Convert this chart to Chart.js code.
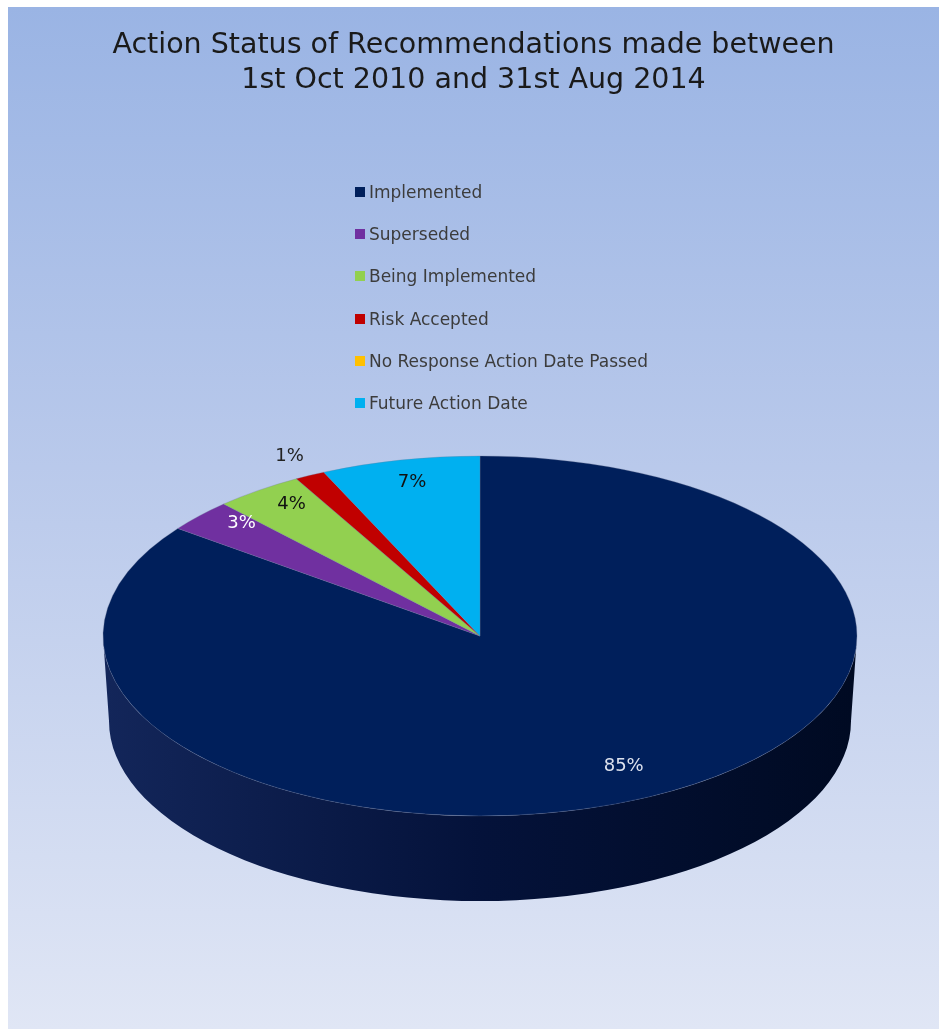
<!DOCTYPE html>
<html>
<head>
<meta charset="utf-8">
<script src="https://cdn.jsdelivr.net/npm/chart.js@4.4.1/dist/chart.umd.min.js"></script>
<style>
    html, body { margin: 0; padding: 0; background: #ffffff; }
    body { width: 939px; height: 1029px; position: relative; overflow: hidden; }
    #frame {
        position: absolute; left: 8px; top: 7px; width: 931px; height: 1022px;
        background: linear-gradient(to bottom, #9ab4e4 0%, #b9c9eb 45%, #e0e6f5 100%);
    }
    #frame canvas { position: absolute; left: 0; top: 0; }
    #legend {
        position: absolute; left: 347px; top: 164px;
        font-family: "DejaVu Sans", sans-serif; font-size: 17px; color: #3c3c3c;
    }
    #legend .item { display: flex; align-items: center; height: 42.2px; }
    #legend .box { width: 10px; height: 10px; margin-right: 4px; }
</style>
</head>
<body>
<div id="frame">
    <canvas id="chart" width="931" height="1022"></canvas>
    <div id="legend"></div>
</div>
<script>
// Данные диаграммы
const categories = ['Implemented', 'Superseded', 'Being Implemented', 'Risk Accepted', 'No Response Action Date Passed', 'Future Action Date'];
const shares = [85.2, 2.9, 3.8, 1.3, 0, 6.8];
const titleLines = ['Action Status of Recommendations made between', '1st Oct 2010 and 31st Aug 2014'];

// Оформление
const sliceColors = ['#001f5b', '#7030a0', '#92d050', '#c00000', '#ffc000', '#00b0f0'];
const labelColors = ['#dde2ee', '#ffffff', '#111111', '#222222', '#111111', '#111111'];

// Геометрия "3D" эллипса (в координатах canvas)
const PIE = { cx: 472, cy: 629, rx: 377, ry: 180, depth: 85, rxBottom: 371 };
// для подписей: центр с учётом перспективы
const LBL = { cy: 605, ryUp: 156, ryDown: 203 };

const pie3d = {
    id: 'pie3d',
    beforeDatasetsDraw(chart) {
        const ctx = chart.ctx;
        const arcs = chart.getDatasetMeta(0).data;
        if (!arcs.length) return;

        // боковая стенка (видна только передняя половина)
        const grad = ctx.createLinearGradient(PIE.cx - PIE.rx, 0, PIE.cx + PIE.rx, 0);
        grad.addColorStop(0, '#13265a');
        grad.addColorStop(0.5, '#04123a');
        grad.addColorStop(1, '#000a22');
        arcs.forEach((arc, i) => {
            const a0 = Math.max(arc.startAngle, 0);
            const a1 = Math.min(arc.endAngle, Math.PI);
            if (a1 <= a0) return;
            ctx.save();
            ctx.beginPath();
            ctx.ellipse(PIE.cx, PIE.cy, PIE.rx, PIE.ry, 0, a0, a1);
            ctx.ellipse(PIE.cx, PIE.cy + PIE.depth, PIE.rxBottom, PIE.ry, 0, a1, a0, true);
            ctx.closePath();
            ctx.fillStyle = i === 0 ? grad : sliceColors[i];
            ctx.fill();
            ctx.restore();
        });

        // сжимаем круг в эллипс
        const a = arcs[0];
        const R = a.outerRadius;
        ctx.save();
        ctx.translate(PIE.cx, PIE.cy);
        ctx.scale(PIE.rx / R, PIE.ry / R);
        ctx.translate(-a.x, -a.y);
    },
    afterDatasetsDraw(chart) {
        const ctx = chart.ctx;
        ctx.restore();

        const total = shares.reduce((s, v) => s + v, 0);
        const arcs = chart.getDatasetMeta(0).data;
        ctx.save();
        ctx.font = '18px "DejaVu Sans", sans-serif';
        ctx.textAlign = 'center';
        ctx.textBaseline = 'middle';
        arcs.forEach((arc, i) => {
            const v = shares[i];
            if (!v) return;
            const pct = Math.round(v / total * 100);
            const mid = (arc.startAngle + arc.endAngle) / 2;
            const f = pct < 2 ? 1.12 : 0.85;
            const s = Math.sin(mid);
            const x = PIE.cx + PIE.rx * f * Math.cos(mid);
            const y = LBL.cy + (s < 0 ? LBL.ryUp : LBL.ryDown) * f * s;
            ctx.fillStyle = labelColors[i];
            ctx.fillText(pct + '%', x, y);
        });
        ctx.restore();
    }
};

const chart = new Chart(document.getElementById('chart').getContext('2d'), {
    type: 'pie',
    data: {
        labels: categories,
        datasets: [{
            data: shares,
            backgroundColor: sliceColors,
            borderWidth: 0.6,
            borderColor: 'rgba(110,120,150,0.8)',
            clip: false
        }]
    },
    options: {
        responsive: false,
        animation: false,
        events: [],
        layout: { padding: { left: 20, right: 20, bottom: 20 } },
        plugins: {
            legend: { display: false },
            tooltip: { enabled: false },
            title: {
                display: true,
                text: titleLines,
                color: '#1a1a1a',
                font: { family: '"DejaVu Sans", sans-serif', size: 28.5, weight: 'normal', lineHeight: 1.23 },
                padding: { top: 21, bottom: 10 }
            }
        }
    },
    plugins: [pie3d]
});

// Легенда списком по центру
const legendBox = document.getElementById('legend');
const items = Chart.overrides.pie.plugins.legend.labels.generateLabels(chart);
items.forEach(item => {
    const row = document.createElement('div');
    row.className = 'item';
    const sq = document.createElement('span');
    sq.className = 'box';
    sq.style.background = item.fillStyle;
    const txt = document.createElement('span');
    txt.textContent = item.text;
    row.appendChild(sq);
    row.appendChild(txt);
    legendBox.appendChild(row);
});
</script>
</body>
</html>
